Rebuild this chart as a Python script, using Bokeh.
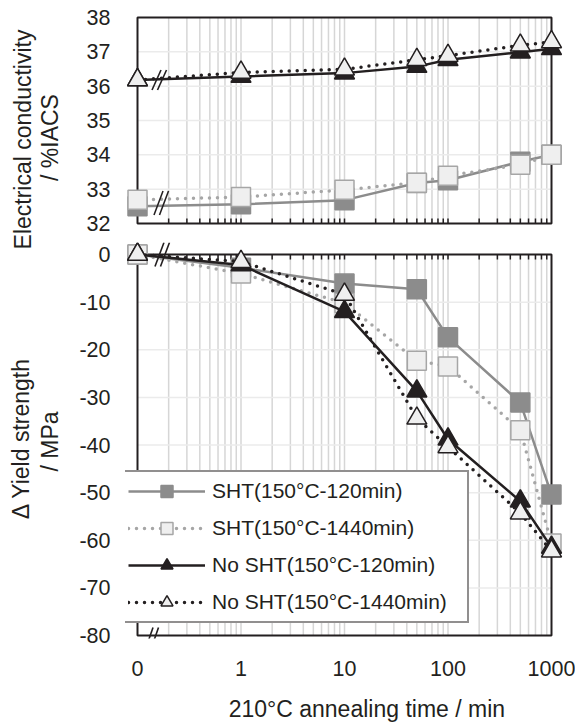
import math
from bokeh.plotting import figure
from bokeh.layouts import column, row
from bokeh.models import FixedTicker, Range1d, Legend, LegendItem, Arrow, Label
from bokeh.embed import file_html
from bokeh.resources import INLINE

# ---------------- data ----------------
time_min = [0, 1, 10, 50, 100, 500, 1000]

ec_sht_120 = [32.50, 32.56, 32.68, 33.18, 33.26, 33.80, 34.00]
ec_sht_1440 = [32.69, 32.77, 32.98, 33.19, 33.39, 33.71, 34.00]
ec_nosht_120 = [36.18, 36.28, 36.38, 36.57, 36.77, 36.99, 37.09]
ec_nosht_1440 = [36.18, 36.40, 36.49, 36.77, 36.89, 37.19, 37.29]

dys_sht_120 = [0, -2.8, -6.1, -7.3, -17.4, -31.1, -50.4]
dys_sht_1440 = [0, -4.0, -10.2, -22.3, -23.5, -36.9, -60.7]
dys_nosht_120 = [0, -2.2, -12.0, -28.7, -38.8, -51.8, -61.5]
dys_nosht_1440 = [0, -1.5, -8.4, -34.4, -40.4, -54.3, -62.3]

series_labels = ["SHT(150°C-120min)", "SHT(150°C-1440min)",
                 "No SHT(150°C-120min)", "No SHT(150°C-1440min)"]

x_tick_values = [0, 1, 10, 100, 1000]
x_tick_labels = ["0", "1", "10", "100", "1000"]
ec_ticks = [32, 33, 34, 35, 36, 37, 38]
dys_ticks = [-80, -70, -60, -50, -40, -30, -20, -10, 0]

ec_title = ["Electrical conductivity", "/ %IACS"]
dys_title = ["Δ Yield strength", "/ MPa"]
x_title = "210°C annealing time / min"

# ---------------- geometry / style ----------------
FONT = "Liberation Sans"
INK = "#231f20"
GRAY = "#8c8c8c"
LGRAY = "#a6a6a6"
OPEN_FILL = "#efefef"
GRID_V = "#d6d6d6"
GRID_H = "#ebebeb"
NB = "\u00a0"

PAGE_H = 725
TITLE_W = 65            # strip on the left that carries the two y-axis titles
MAIN_W = 575 - TITLE_W

ZERO_POS = 0.1          # "0" drawn one decade below 1 (broken axis)
X_LO, X_HI = ZERO_POS, 1000
DECADE_PX = 103.5
XPAD = 10 ** (12 / DECADE_PX)

TOP_BOX_PX = 206
BOT_BOX_PX = 381
upp_top = (ec_ticks[-1] - ec_ticks[0]) / TOP_BOX_PX
upp_bot = (dys_ticks[-1] - dys_ticks[0]) / BOT_BOX_PX

x_range = Range1d(X_LO / XPAD, X_HI * XPAD)


def xpos(t):
    return ZERO_POS if t == 0 else t


xs = [xpos(t) for t in time_min]
grid_x = [k * d for d in (0.1, 1, 10, 100) for k in range(2, 10)] + [1, 10, 100]


def px_to_x(px):
    return X_LO * 10 ** (px / DECADE_PX)


def make_fig(height, y_lo, y_hi, b_top, b_bot):
    p = figure(width=MAIN_W, height=height, x_axis_type="log", x_range=x_range,
               y_range=Range1d(y_lo, y_hi), output_backend="svg",
               toolbar_location=None, min_border_left=125 - TITLE_W, min_border_right=12,
               min_border_top=b_top, min_border_bottom=b_bot)
    p.outline_line_color = None
    p.grid.visible = False
    p.background_fill_color = "white"
    p.border_fill_color = "white"
    return p


def style_yaxis(p, ticks):
    ax = p.yaxis[0]
    ax.ticker = FixedTicker(ticks=ticks, minor_ticks=[])
    ax.major_label_overrides = {t: str(t) for t in ticks}
    ax.major_tick_in = 0
    ax.major_tick_out = 0
    ax.minor_tick_in = 0
    ax.minor_tick_out = 0
    ax.axis_line_color = None
    ax.major_label_standoff = 15
    ax.major_label_text_font = FONT
    ax.major_label_text_font_size = "21.5px"
    ax.major_label_text_color = INK


def decorate(p, y_lo, y_hi, h_ticks, tick_y0, tick_y1):
    p.segment(x0=grid_x, x1=grid_x, y0=y_lo, y1=y_hi, line_color=GRID_V, line_width=1.5)
    p.segment(x0=X_LO, x1=X_HI, y0=h_ticks, y1=h_ticks, line_color=GRID_H, line_width=1.5)
    p.segment(x0=grid_x, x1=grid_x, y0=tick_y0, y1=tick_y1, line_color=INK, line_width=1.5)
    p.quad(left=X_LO, right=X_HI, bottom=y_lo, top=y_hi, fill_color=None,
           line_color=INK, line_width=2)


def add_break(p, cx_px, cy, half_h):
    for dx in (0, 5.5):
        x0 = px_to_x(cx_px + dx - 4.5)
        x1 = px_to_x(cx_px + dx + 4.5)
        p.add_layout(Arrow(end=None, x_start=x0, y_start=cy - half_h, x_end=x1,
                           y_end=cy + half_h, line_color=INK, line_width=1.6))


styles = [
    dict(line=dict(line_color=GRAY, line_width=2.5),
         mk=dict(marker="square", size=19, fill_color=GRAY, line_color=GRAY, line_width=1.5)),
    dict(line=dict(line_color=LGRAY, line_width=3.5, line_dash="0 8", line_cap="round"),
         mk=dict(marker="square", size=19, fill_color=OPEN_FILL, line_color=LGRAY, line_width=1.5)),
    dict(line=dict(line_color=INK, line_width=2.5),
         mk=dict(marker="triangle", size=20, fill_color=INK, line_color=INK, line_width=1.5)),
    dict(line=dict(line_color=INK, line_width=3.5, line_dash="0 8", line_cap="round"),
         mk=dict(marker="triangle", size=20, fill_color=OPEN_FILL, line_color=INK, line_width=1.5)),
]


def draw_series(p, ys_list):
    out = []
    for ys, st in zip(ys_list, styles):
        lr = p.line(xs, ys, **st["line"])
        sr = p.scatter(xs, ys, **st["mk"])
        out.append((lr, sr))
    return out


# ---------------- title strip (pixel coordinates, y downwards) ----------------
tfig = figure(width=TITLE_W, height=PAGE_H, x_range=Range1d(0, TITLE_W),
              y_range=Range1d(PAGE_H, 0), output_backend="svg", toolbar_location=None,
              min_border=0)
tfig.axis.visible = False
tfig.grid.visible = False
tfig.outline_line_color = None
tfig.background_fill_color = "white"
tfig.border_fill_color = "white"
title_places = [(ec_title[0], 22, 139), (ec_title[1], 49, 137),
                (dys_title[0], 20, 438), (dys_title[1], 49, 441)]
for text, tx, ty in title_places:
    tfig.add_layout(Label(x=tx, y=ty, text=text, angle=math.pi / 2,
                          text_align="center", text_baseline="middle",
                          text_font=FONT, text_font_size="23px", text_color=INK))

# ---------------- top panel ----------------
top = make_fig(242, ec_ticks[0] - 3 * upp_top, ec_ticks[-1] + 3 * upp_top, 14, 16)
top.xaxis.visible = False
decorate(top, ec_ticks[0], ec_ticks[-1], ec_ticks[1:-1], ec_ticks[0], ec_ticks[0] + 5 * upp_top)
draw_series(top, [ec_sht_120, ec_sht_1440, ec_nosht_120, ec_nosht_1440])
style_yaxis(top, ec_ticks)
add_break(top, 19, ec_nosht_1440[0], 10 * upp_top)
add_break(top, 21, (ec_sht_120[0] + ec_sht_1440[0]) / 2, 12 * upp_top)

# ---------------- bottom panel ----------------
bot = make_fig(PAGE_H - 242, dys_ticks[0] - 3 * upp_bot, dys_ticks[-1] + 12 * upp_bot, 0, 87)
decorate(bot, dys_ticks[0], dys_ticks[-1], dys_ticks[1:-1], dys_ticks[-1], dys_ticks[-1] - 5 * upp_bot)
rends = draw_series(bot, [dys_sht_120, dys_sht_1440, dys_nosht_120, dys_nosht_1440])
style_yaxis(bot, dys_ticks)
add_break(bot, 22, dys_ticks[-1], 12 * upp_bot)
add_break(bot, 11, dys_ticks[0] - 5 * upp_bot, 13 * upp_bot)

xa = bot.xaxis[0]
xa.ticker = FixedTicker(ticks=[xpos(v) for v in x_tick_values], minor_ticks=[])
xa.major_label_overrides = {xpos(v): lab for v, lab in zip(x_tick_values, x_tick_labels)}
xa.major_tick_in = 0
xa.major_tick_out = 0
xa.minor_tick_in = 0
xa.minor_tick_out = 0
xa.axis_line_color = None
xa.major_label_standoff = 22
xa.major_label_text_font = FONT
xa.major_label_text_font_size = "21.5px"
xa.major_label_text_color = INK
xa.axis_label = NB * 7 + x_title
xa.axis_label_text_font = FONT
xa.axis_label_text_font_size = "23px"
xa.axis_label_text_font_style = "normal"
xa.axis_label_text_color = INK
xa.axis_label_standoff = 17

legend = Legend(
    items=[LegendItem(label=lab, renderers=[lr, sr]) for lab, (lr, sr) in zip(series_labels, rends)],
    location=(-3, 15), orientation="vertical", margin=0, padding=4, spacing=7,
    glyph_width=77, glyph_height=30, label_height=30, label_width=251, label_standoff=7,
    border_line_color=INK, border_line_width=2, background_fill_color="white",
    background_fill_alpha=1.0, label_text_font=FONT, label_text_font_size="21px",
    label_text_color=INK)
bot.add_layout(legend)

layout = row(tfig, column(top, bot, spacing=0), spacing=0)
open("out.html", "w").write(file_html(layout, INLINE))
